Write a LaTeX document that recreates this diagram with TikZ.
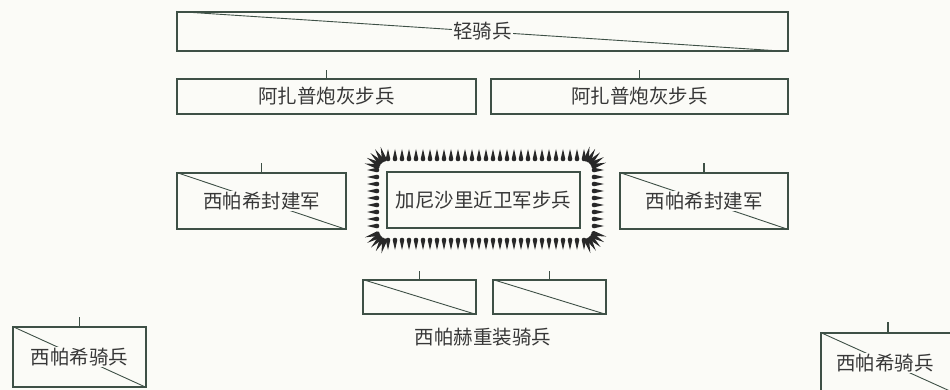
\documentclass[tikz,border=0pt]{standalone}
\usepackage{fontspec}
\newfontfamily\cjk{Noto Sans CJK SC}
\definecolor{linecol}{RGB}{62,80,70}
\definecolor{txtcol}{RGB}{55,55,55}
\definecolor{paper}{RGB}{251,251,247}
\definecolor{spikecol}{RGB}{40,40,40}
\tikzset{
  box/.style={draw=linecol,line width=1.1pt,rectangle,inner sep=0pt,text=txtcol,font=\cjk\fontsize{19.5}{20}\selectfont},
  lbl/.style={fill=paper,inner sep=1.5pt,text=txtcol,font=\cjk\fontsize{19.5}{20}\selectfont},
  diag/.style={draw=linecol,line width=0.9pt},
  tick/.style={draw=linecol,line width=1.1pt},
  spk/.pic={\fill[spikecol] (0,2.3) arc[start angle=90,end angle=270,radius=2.3] -- (10,0) -- cycle;},
  spkl/.pic={\fill[spikecol] (0,2.4) arc[start angle=90,end angle=270,radius=2.4] -- (13,0) -- cycle;}
}
\begin{document}
\begin{tikzpicture}[x=1pt,y=-1pt]
\useasboundingbox (0,0) rectangle (950,390);
\fill[paper] (0,0) rectangle (950,390);
\clip (0,0) rectangle (950,390);

% top: light cavalry
\node[box,minimum width=611pt,minimum height=39pt] (qi) at (482.5,31.5) {};
\draw[diag] (qi.north west) -- (qi.south east);
\node[lbl] (qit) at (qi.center) {轻骑兵};

% row 2: azap
\node[box,minimum width=299pt,minimum height=35pt] (az1) at (326.5,96.5) {阿扎普炮灰步兵};
\node[box,minimum width=297pt,minimum height=35pt] (az2) at (639.5,96.5) {阿扎普炮灰步兵};
\coordinate (az1t) at ([yshift=8pt]az1.north);
\coordinate (az2t) at ([yshift=8pt]az2.north);
\draw[tick] (az1.north) -- (az1t);
\draw[tick] (az2.north) -- (az2t);

% row 3
\node[box,minimum width=169pt,minimum height=56pt] (sf1) at (261.5,201) {};
\draw[diag] (sf1.north west) -- (sf1.south east);
\node[lbl] (sf1t) at (sf1.center) {西帕希封建军};
\coordinate (sf1k) at ([yshift=9pt]sf1.north);
\draw[tick] (sf1.north) -- (sf1k);

\node[box,minimum width=168pt,minimum height=56pt] (sf2) at (704,201) {};
\draw[diag] (sf2.north west) -- (sf2.south east);
\node[lbl] (sf2t) at (sf2.center) {西帕希封建军};
\coordinate (sf2k) at ([yshift=9pt]sf2.north);
\draw[tick] (sf2.north) -- (sf2k);

\node[box,minimum width=193pt,minimum height=56pt] (jn) at (483.5,200) {加尼沙里近卫军步兵};

% spikes around janissaries
\foreach \x in {388,395,...,584} {
  \pic[rotate=90] at (\x,159) {spk};
  \pic[rotate=270] at (\x,240) {spk};
}
\foreach \y in {170,177,...,232} {
  \pic[rotate=180] at (377,\y) {spk};
  \pic[rotate=0] at (594,\y) {spk};
}
\foreach \a in {106,121,136,151,166} {
  \pic[rotate=\a] at ({387+10*cos(\a)},{169-10*sin(\a)}) {spkl};
  \pic[rotate=\a-90] at ({584+10*cos(\a-90)},{169-10*sin(\a-90)}) {spkl};
  \pic[rotate=\a+90] at ({387+10*cos(\a+90)},{231-10*sin(\a+90)}) {spkl};
  \pic[rotate=\a+180] at ({584+10*cos(\a+180)},{231-10*sin(\a+180)}) {spkl};
}

% row 4: heavy sipahi
\node[box,minimum width=113pt,minimum height=34pt] (hs1) at (419.5,297) {};
\draw[diag] (hs1.north west) -- (hs1.south east);
\coordinate (hs1k) at ([yshift=8pt]hs1.north);
\draw[tick] (hs1.north) -- (hs1k);
\node[box,minimum width=113pt,minimum height=34pt] (hs2) at (549.5,297) {};
\draw[diag] (hs2.north west) -- (hs2.south east);
\coordinate (hs2k) at ([yshift=8pt]hs2.north);
\draw[tick] (hs2.north) -- (hs2k);
\node[lbl,fill=none] (hst) at (483,337) {西帕赫重装骑兵};

% bottom corners: sipahi cavalry
\node[box,minimum width=133pt,minimum height=60pt] (sc1) at (79.5,357) {};
\draw[diag] (sc1.north west) -- (sc1.south east);
\node[lbl] (sc1t) at (sc1.center) {西帕希骑兵};
\coordinate (sc1k) at ([yshift=9pt]sc1.north);
\draw[tick] (sc1.north) -- (sc1k);

\node[box,minimum width=134pt,minimum height=60pt] (sc2) at (888,363) {};
\draw[diag] (sc2.north west) -- (sc2.south east);
\node[lbl] (sc2t) at ([xshift=-3pt]sc2.center) {西帕希骑兵};
\coordinate (sc2k) at ([yshift=10pt]sc2.north);
\draw[tick] (sc2.north) -- (sc2k);
\end{tikzpicture}
\end{document}
